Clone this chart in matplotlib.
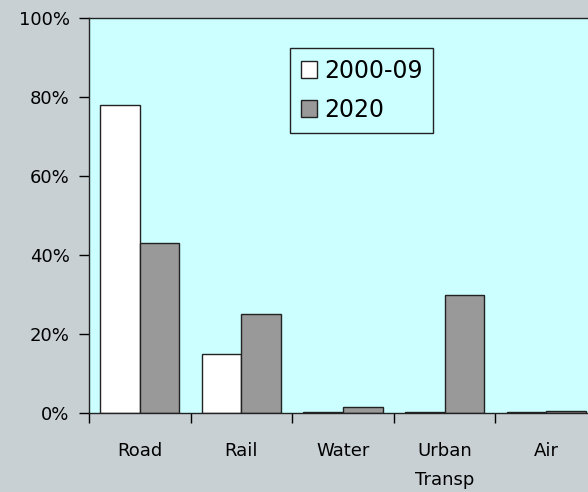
import numpy as np
import matplotlib.pyplot as plt
from matplotlib.ticker import FixedLocator, PercentFormatter

categories = ['Road', 'Rail', 'Water', 'Urban\nTransp', 'Air']
share_2000_09 = [78, 15, 0.2, 0.2, 0.2]
share_2020 = [43, 25, 1.5, 30, 0.5]

bg = '#C8D0D4'
fig = plt.figure(figsize=(5.88, 4.92), dpi=100, facecolor=bg)
# plot area runs past the right edge of the picture, as in the original
ax = fig.add_axes([89 / 588, 1 - 413 / 492, 508 / 588, 395 / 492])
ax.set_facecolor('#CCFFFF')

x = np.arange(len(categories))
w = 0.39
ax.bar(x - w / 2, share_2000_09, w, color='white', edgecolor='#222222', linewidth=1, label='2000-09')
ax.bar(x + w / 2, share_2020, w, color='#999999', edgecolor='#222222', linewidth=1, label='2020')

ax.set_xlim(-0.5, len(categories) - 0.5)
ax.set_ylim(0, 100)
ax.set_yticks(range(0, 101, 20))
ax.yaxis.set_major_formatter(PercentFormatter(decimals=0))
ax.set_xticks(x)
ax.set_xticklabels(categories, fontsize=13, linespacing=1.75)
ax.xaxis.set_minor_locator(FixedLocator(np.arange(-0.5, len(categories), 1)))
ax.tick_params(axis='x', which='major', length=0, pad=21)
ax.tick_params(axis='x', which='minor', length=7, width=1, direction='out')
ax.tick_params(axis='y', length=7, width=1, direction='out', labelsize=13, pad=7)

for s in ['left', 'bottom', 'top']:
    ax.spines[s].set_color('#222222')
    ax.spines[s].set_linewidth(1)
ax.spines['right'].set_visible(False)

leg = ax.legend(loc='upper left', bbox_to_anchor=((290 - 89) / 508, (413 - 48) / 395),
                fontsize=17, frameon=True, fancybox=False, framealpha=1,
                handlelength=0.7, handleheight=0.7, handletextpad=0.3,
                borderpad=0.45, labelspacing=0.65, borderaxespad=0)
leg.get_frame().set_edgecolor('#222222')
leg.get_frame().set_facecolor('#CCFFFF')
leg.get_frame().set_linewidth(1)

plt.savefig('out.png', dpi=100, facecolor=bg)
